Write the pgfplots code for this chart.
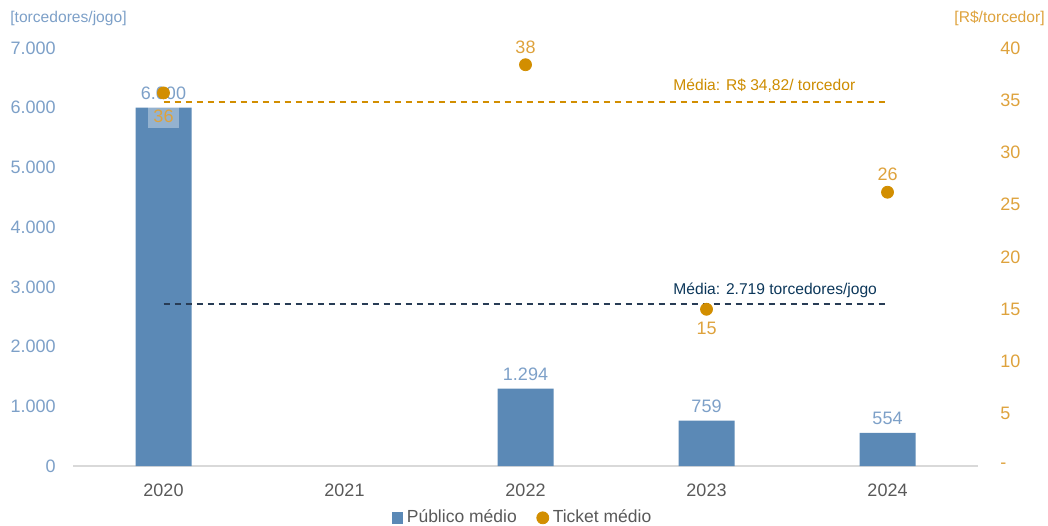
\documentclass[border=0pt]{standalone}
\usepackage{fontspec}
\setmainfont{Liberation Sans}
\usepackage{pgfplots}
\pgfplotsset{compat=1.18}
\definecolor{barblue}{RGB}{91,137,182}
\definecolor{tickblue}{RGB}{125,160,200}
\definecolor{dotorange}{RGB}{210,142,0}
\definecolor{tickorange}{RGB}{222,162,60}
\definecolor{meanorange}{RGB}{205,140,0}
\definecolor{meanblue}{RGB}{12,55,90}
\definecolor{meanline}{RGB}{40,60,85}
\definecolor{axisgrey}{RGB}{217,217,217}
\definecolor{labgrey}{RGB}{89,89,89}

\pgfplotsset{base/.style={
  width=452.5pt, height=209pt, scale only axis,
  at={(0,0)}, anchor=south west,
  xmin=-0.5, xmax=4.5,
  clip=false,
}}
\newcommand{\tk}{\fontsize{9}{11}\selectfont}
\newcommand{\sm}{\fontsize{7.8}{9}\selectfont}

\begin{document}
\begin{tikzpicture}
\path[use as bounding box] (-36.5pt,-29.5pt) rectangle (487.5pt,233pt);
% left axis: average attendance
\begin{axis}[base,
  ymin=0, ymax=7000,
  axis x line*=bottom, axis y line*=left,
  y axis line style={draw=none},
  x axis line style={draw=axisgrey, line width=0.8pt, -},
  ytick={0,1000,...,7000},
  yticklabels={0,1.000,2.000,3.000,4.000,5.000,6.000,7.000},
  ytick style={draw=none},
  yticklabel style={tickblue, font=\tk, anchor=east, inner sep=0pt, xshift=-8.5pt},
  xtick={0,...,4},
  xticklabels={2020,2021,2022,2023,2024},
  xtick style={draw=none},
  xticklabel style={labgrey, font=\tk, anchor=north, inner sep=0pt, yshift=-9pt},
  extra x ticks={-0.5,0.5,1.5,2.5,3.5,4.5},
  extra x tick labels={},
  extra x tick style={tick style={draw=axisgrey, line width=0.8pt}, major tick length=4pt, tick align=outside},
]
\addplot[ybar, bar width=28pt, fill=barblue, draw=none,
  nodes near coords, point meta=explicit symbolic,
  nodes near coords style={tickblue, font=\tk, anchor=south, inner sep=0pt, yshift=4pt}]
  coordinates {(0,6000)[6.000] (2,1294)[1.294] (3,759)[759] (4,554)[554]};
\addplot[meanline, line width=1pt, dash pattern=on 3pt off 2.5pt] coordinates {(0,2719) (4,2719)};
\node[anchor=south west, meanblue, font=\sm, inner sep=0pt] at (axis cs:2.815,2719) [yshift=3pt] {Média: 2.719 torcedores/jogo};
\node[anchor=west, tickblue, font=\sm, inner sep=0pt] at (rel axis cs:0,1) [xshift=-31.5pt, yshift=15pt] {[torcedores/jogo]};
\end{axis}
% right axis: average ticket
\begin{axis}[base,
  ymin=0, ymax=40,
  axis x line=none, axis y line*=right,
  y axis line style={draw=none},
  ytick={0,5,...,40},
  yticklabels={-,5,10,15,20,25,30,35,40},
  ytick style={draw=none},
  yticklabel style={tickorange, font=\tk, anchor=west, inner sep=0pt, xshift=11pt},
  legend columns=2,
  legend style={draw=none, fill=none, at={(0.498,-0.124)}, anchor=center,
    font=\fontsize{8.75}{10}\selectfont, text=labgrey,
    /tikz/every even column/.append style={column sep=8pt}},
  legend cell align=left,
  legend image code/.code={\draw[#1] plot coordinates {(0pt,0pt)};},
]
\addlegendimage{only marks, mark=square*, mark size=2.7pt, barblue}
\addlegendentry{Público médio}
\addplot[only marks, mark=*, mark size=3pt, dotorange,
  nodes near coords, point meta=explicit symbolic,
  nodes near coords style={tickorange, font=\tk, anchor=north, inner sep=0pt, yshift=-6pt}]
  coordinates {(3,15.0)[15]};
\addlegendentry{Ticket médio}
\addplot[only marks, mark=*, mark size=3pt, dotorange, forget plot,
  nodes near coords, point meta=explicit symbolic,
  nodes near coords style={tickorange, font=\tk, anchor=north, inner sep=2.5pt, yshift=-6pt,
    fill=white, fill opacity=0.35, text opacity=1}]
  coordinates {(0,35.7)[36]};
\addplot[only marks, mark=*, mark size=3pt, dotorange, forget plot,
  nodes near coords, point meta=explicit symbolic,
  nodes near coords style={tickorange, font=\tk, anchor=south, inner sep=0pt, yshift=5.5pt}]
  coordinates {(2,38.4)[38] (4,26.2)[26]};
\addplot[dotorange, line width=1pt, dash pattern=on 3pt off 2.5pt, forget plot] coordinates {(0,34.82) (4,34.82)};
\node[anchor=south west, meanorange, font=\sm, inner sep=0pt] at (axis cs:2.815,34.82) [yshift=4.5pt] {Média: R\$ 34,82/ torcedor};
\node[anchor=east, tickorange, font=\sm, inner sep=0pt] at (rel axis cs:1,1) [xshift=33.5pt, yshift=15pt] {[R\$/torcedor]};
\end{axis}
\end{tikzpicture}
\end{document}
